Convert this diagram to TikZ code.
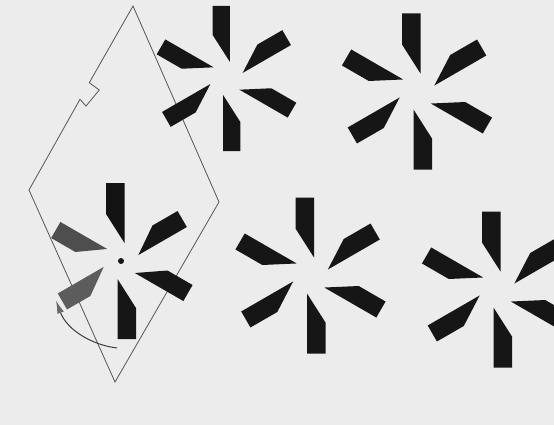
\documentclass[tikz,border=0pt]{standalone}
\usetikzlibrary{arrows.meta}
\definecolor{bgcol}{RGB}{236,236,236}
\definecolor{kitecol}{RGB}{85,85,85}
\definecolor{bladecol}{RGB}{22,22,22}
\definecolor{bladegrayA}{RGB}{78,78,78}
\definecolor{bladegrayB}{RGB}{92,92,92}
\definecolor{arrowcol}{RGB}{60,60,60}
\definecolor{headcol}{RGB}{105,105,105}
\tikzset{
  kiteline/.style={draw=kitecol, line width=0.8pt, line join=miter},
  pinwheel/.pic={
    \foreach \a in {90,30,-30,-90,-150,150}{
      \fill[bladecol, rotate=\a] (18,-3.5) -- (78,-3.5) -- (78,15) -- (47,15) -- cycle;
    }
  }
}
\begin{document}
\begin{tikzpicture}[x=1pt,y=1pt]
\fill[bgcol] (0,0) rectangle (554,-425);
\useasboundingbox (0,0) rectangle (554,-425);
% kite outline with notch
\draw[kiteline] (133,-6) -- (89.3,-82.7) -- (99.3,-90) -- (86,-106) -- (80,-99.3)
  -- (29,-190) -- (115,-382) -- (219,-202) -- cycle;
% pinwheels
\pic[scale=0.93] at (226.5,-78.5) {pinwheel};
\pic at (417,-91.5) {pinwheel};
\pic at (310.5,-275.5) {pinwheel};
\pic at (497,-289.5) {pinwheel};
% left pinwheel inside kite
\begin{scope}[shift={(121,-261)}]
  \fill[bladecol!85!black, rotate=90] (18,-3.5) -- (78,-3.5) -- (78,15) -- (47,15) -- cycle;
  \fill[bladecol, rotate=30] (18,-3.5) -- (74,-3.5) -- (74,15) -- (45,15) -- cycle;
  \fill[bladecol, rotate=-30] (18,-3.5) -- (74,-3.5) -- (74,15) -- (45,15) -- cycle;
  \fill[bladecol, rotate=-90] (18,-3.5) -- (78,-3.5) -- (78,15) -- (47,15) -- cycle;
  \fill[bladegrayB, rotate=-150] (18,-3.5) -- (71,-3.5) -- (71,15) -- (44,15) -- cycle;
  \fill[bladegrayA, rotate=150] (18,-3.5) -- (72,-3.5) -- (72,15) -- (44,15) -- cycle;
  \fill[bladecol] (0,0) circle (3);
\end{scope}
% curved arrow
\draw[arrowcol, line width=1pt, -{Latex[length=13pt,width=7pt,fill=headcol,color=headcol]}]
  (117,-348) .. controls (92,-345) and (67,-330) .. (56,-300.5);
\end{tikzpicture}
\end{document}
